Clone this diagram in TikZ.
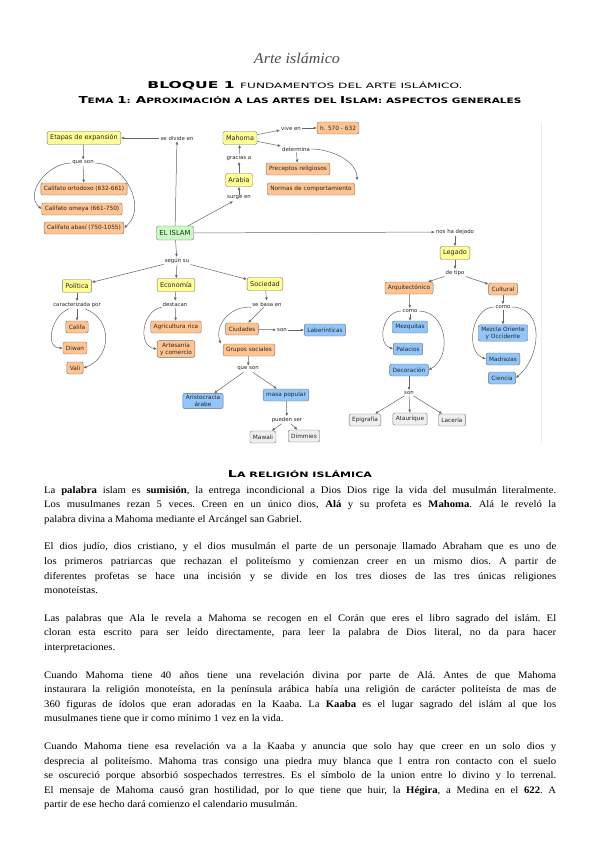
\documentclass[tikz,border=0pt]{standalone}
\usepackage{fontspec}
\usepackage{graphicx}
\usetikzlibrary{arrows.meta}
\setmainfont[FakeStretch=1.07]{Liberation Serif}
\newfontfamily\mapfont{DejaVu Sans}
\newfontfamily\copper{DejaVu Sans}

\definecolor{amarillo}{RGB}{255,255,150}
\definecolor{naranja}{RGB}{255,196,145}
\definecolor{azul}{RGB}{146,197,250}
\definecolor{verde}{RGB}{200,250,195}
\definecolor{gris}{RGB}{236,238,240}

\tikzset{
  concepto/.style={draw=black!55, rounded corners=2pt, inner xsep=3pt, inner ysep=2pt,
    minimum height=12pt, align=center, text=black!85,
    font=\mapfont\fontsize{5.8}{6.8}\selectfont},
  amar/.style={concepto, fill=amarillo, minimum height=13pt, font=\mapfont\fontsize{6.5}{7.5}\selectfont},
  verd/.style={concepto, fill=verde, minimum height=14pt, font=\mapfont\fontsize{6.8}{7.5}\selectfont},
  nar/.style={concepto, fill=naranja},
  azu/.style={concepto, fill=azul},
  gri/.style={concepto, fill=gris},
  frase/.style={inner sep=1pt, text=black!85, font=\mapfont\fontsize{5.4}{6}\selectfont},
  conn/.style={draw=black!60, line width=0.5pt, -{Latex[length=3.2pt,width=2.8pt]}}
}

\begin{document}
\begin{tikzpicture}[x=1pt,y=-1pt]

  \useasboundingbox (0,0) rectangle (599,848);

  % titles
  \node (titulo) at (297,58) {\fontsize{15}{16}\selectfont\itshape\color{black!70}Arte islámico};
  \node (bloque) at (305,86) {\resizebox{315pt}{7pt}{\copper\fontsize{9}{10}\selectfont\bfseries BLOQUE 1 \mdseries\fontsize{7}{8}\selectfont FUNDAMENTOS DEL ARTE ISLÁMICO.}};
  \node (tema) at (300,100) {\resizebox{443pt}{7pt}{\copper\bfseries\fontsize{7}{8}\selectfont{\fontsize{9}{10}\selectfont T}EMA {\fontsize{9}{10}\selectfont 1}: {\fontsize{9}{10}\selectfont A}PROXIMACIÓN A LAS ARTES DEL {\fontsize{9}{10}\selectfont I}SLAM: ASPECTOS GENERALES}};

  % faint edge of the map
  \draw[black!7] (541,122) -- (541,443);

  % centre
  \node[verd] (islam) at (175,233) {EL ISLAM};

  % expansion
  \node[frase] (divide) at (177,138) {se divide en};
  \node[amar] (etapas) at (84,138) {Etapas de expansión};
  \node[frase] (queson) at (83,163) {que son};
  \node[nar] (ortodoxo) at (84,189) {Califato ortodoxo (632-661)};
  \node[nar] (omeya) at (82,209) {Califato omeya (661-750)};
  \node[nar] (abasi) at (84,228) {Califato abasí (750-1055)};

  \draw[conn] (islam) -- (divide);
  \draw[conn] (divide) -- (etapas);
  \draw[conn] (etapas) -- (queson);
  \draw[conn] (queson) -- (ortodoxo);
  \draw[conn] (queson.west) to[out=180,in=140,looseness=1.1] (omeya.west);
  \draw[conn] (queson.east) to[out=0,in=40,looseness=1.1] (abasi.east);

  % Mahoma
  \node[frase] (surge) at (239,198) {surge en};
  \node[amar] (arabia) at (239,180) {Arabia};
  \node[frase] (gracias) at (239,158) {gracias a};
  \node[amar] (mahoma) at (240,138) {Mahoma};
  \node[frase] (vive) at (291,128) {vive en};
  \node[nar] (fecha) at (338,128) {h. 570 - 632};
  \node[frase] (determina) at (296,149) {determina};
  \node[nar] (preceptos) at (298,169) {Preceptos religiosos};
  \node[nar] (normas) at (311,189) {Normas de comportamiento};

  \draw[conn] (islam) -- (surge);
  \draw[conn] (surge) -- (arabia);
  \draw[conn] (arabia) -- (gracias);
  \draw[conn] (gracias) -- (mahoma);
  \draw[conn] (mahoma) -- (vive);
  \draw[conn] (vive) -- (fecha);
  \draw[conn] (mahoma) -- (determina);
  \draw[conn] (determina) -- (preceptos);
  \draw[conn] (determina.east) to[out=0,in=90,looseness=0.9] ([xshift=2pt,yshift=2.5pt]normas.north east);

  % legado
  \node[frase] (dejado) at (455,232) {nos ha dejado};
  \node[amar] (legado) at (455,253) {Legado};
  \node[frase] (tipo) at (455,273) {de tipo};
  \node[nar] (arquitectonico) at (409,288) {Arquitectónico};
  \node[nar] (cultural) at (503,289) {Cultural};
  \node[frase] (comoA) at (410,311) {como};
  \node[azu] (mezquitas) at (410,327) {Mezquitas};
  \node[azu] (palacios) at (408,349) {Palacios};
  \node[azu] (decoracion) at (409,370) {Decoración};
  \node[frase] (sonA) at (409,393) {son};
  \node[gri] (epigrafia) at (365,420) {Epigrafía};
  \node[gri] (ataurique) at (410,419) {Ataurique};
  \node[gri] (laceria) at (452,420) {Lacería};
  \node[frase] (comoC) at (503,307) {como};
  \node[azu] (mezcla) at (503,333) {Mezcla Oriente\\y Occidente};
  \node[azu] (madrazas) at (503,359) {Madrazas};
  \node[azu] (ciencia) at (502,378) {Ciencia};

  \draw[conn] (islam) -- (dejado);
  \draw[conn] (dejado) -- (legado);
  \draw[conn] (legado) -- (tipo);
  \draw[conn] (tipo) -- (arquitectonico);
  \draw[conn] (tipo) -- (cultural);
  \draw[conn] (arquitectonico) -- (comoA);
  \draw[conn] (comoA) -- (mezquitas);
  \draw[conn] (comoA.west) to[out=180,in=160,looseness=1.2] (palacios.west);
  \draw[conn] (comoA.east) to[out=0,in=30,looseness=1.2] (decoracion.east);
  \draw[conn] (decoracion) -- (sonA);
  \draw[conn] (sonA) -- (epigrafia);
  \draw[conn] (sonA) -- (ataurique);
  \draw[conn] (sonA) -- (laceria);
  \draw[conn] (cultural) -- (comoC);
  \draw[conn] (comoC) -- (mezcla);
  \draw[conn] (comoC.west) to[out=180,in=160,looseness=1.1] (madrazas.west);
  \draw[conn] (comoC.east) to[out=0,in=40,looseness=1.2] (ciencia.east);

  % segun su
  \node[frase] (segun) at (177,261) {según su};
  \node[amar] (politica) at (77,286) {Política};
  \node[amar] (economia) at (176,285) {Economía};
  \node[amar] (sociedad) at (265,284) {Sociedad};

  \draw[conn] (islam) -- (segun);
  \draw[conn] (segun) -- (politica);
  \draw[conn] (segun) -- (economia);
  \draw[conn] (segun) -- (sociedad);

  \node[frase] (caract) at (77,305) {caracterizada por};
  \node[nar] (califa) at (77,327) {Califa};
  \node[nar] (diwan) at (75,348) {Diwan};
  \node[nar] (vali) at (75,368) {Vali};

  \draw[conn] (politica) -- (caract);
  \draw[conn] (caract) -- (califa);
  \draw[conn] ([xshift=-8pt]caract.south) to[out=200,in=180,looseness=1.2] (diwan.west);
  \draw[conn] ([xshift=8pt]caract.south) to[out=-20,in=20,looseness=1.3] (vali.east);

  \node[frase] (destacan) at (175,304) {destacan};
  \node[nar] (agricultura) at (176,327) {Agricultura rica};
  \node[nar] (artesania) at (176,349) {Artesanía\\y comercio};

  \draw[conn] (economia) -- (destacan);
  \draw[conn] (destacan) -- (agricultura);
  \draw[conn] (destacan.south west) to[out=190,in=170,looseness=1.2] (artesania.west);

  \node[frase] (basa) at (267,304) {se basa en};
  \node[nar] (ciudades) at (242,329) {Ciudades};
  \node[frase] (sonB) at (282,330) {son};
  \node[azu] (laberinticas) at (325,330) {Laberínticas};
  \node[nar] (grupos) at (249,350) {Grupos sociales};
  \node[frase] (quesonB) at (248,369) {que son};
  \node[azu] (aristocracia) at (203,401) {Aristocracia\\árabe};
  \node[azu] (masa) at (286,395) {masa popular};
  \node[frase] (pueden) at (287,420) {pueden ser};
  \node[gri] (mawali) at (263,437) {Mawali};
  \node[gri] (dimmies) at (304,436) {Dimmies};

  \draw[conn] (sociedad) -- (basa);
  \draw[conn] (basa) -- (ciudades);
  \draw[conn] (basa.south west) to[out=175,in=110,looseness=1.1] ([xshift=-2pt]grupos.north west);
  \draw[conn] (ciudades) -- (sonB);
  \draw[conn] (sonB) -- (laberinticas);
  \draw[conn] (grupos) -- (quesonB);
  \draw[conn] (quesonB) -- (aristocracia);
  \draw[conn] (quesonB) -- (masa);
  \draw[conn] (masa) -- (pueden);
  \draw[conn] (pueden) -- (mawali);
  \draw[conn] (pueden) -- (dimmies);

  % la religion islamica
  \node (religion) at (300,474) {\resizebox{144pt}{7pt}{\copper\bfseries\fontsize{7}{8}\selectfont{\fontsize{9}{10}\selectfont L}A RELIGIÓN ISLÁMICA}};

  \node[anchor=north west, inner sep=0pt, text width=512pt, align=justify,
        font=\fontsize{10}{14.6}\selectfont] (cuerpo) at (44,486) {%
    \frenchspacing\setlength{\parskip}{13pt}\setlength{\parindent}{0pt}%
    La \textbf{palabra} islam es \textbf{sumisión}, la entrega incondicional a Dios Dios rige la vida del musulmán literalmente.\linebreak
    Los musulmanes rezan 5 veces. Creen en un único dios, \textbf{Alá} y su profeta es \textbf{Mahoma}. Alá le reveló la\linebreak
    palabra divina a Mahoma mediante el Arcángel san Gabriel.\par
    El dios judío, dios cristiano, y el dios musulmán el parte de un personaje llamado Abraham que es uno de\linebreak
    los primeros patriarcas que rechazan el politeísmo y comienzan creer en un mismo dios. A partir de\linebreak
    diferentes profetas se hace una incisión y se divide en los tres dioses de las tres únicas religiones\linebreak
    monoteístas.\par
    Las palabras que Ala le revela a Mahoma se recogen en el Corán que eres el libro sagrado del islám. El\linebreak
    cloran esta escrito para ser leído directamente, para leer la palabra de Dios literal, no da para hacer\linebreak
    interpretaciones.\par
    Cuando Mahoma tiene 40 años tiene una revelación divina por parte de Alá. Antes de que Mahoma\linebreak
    instaurara la religión monoteísta, en la península arábica había una religión de carácter politeísta de mas de\linebreak
    360 figuras de ídolos que eran adoradas en la Kaaba. La \textbf{Kaaba} es el lugar sagrado del islám al que los\linebreak
    musulmanes tiene que ir como mínimo 1 vez en la vida.\par
    Cuando Mahoma tiene esa revelación va a la Kaaba y anuncia que solo hay que creer en un solo dios y\linebreak
    desprecia al politeísmo. Mahoma tras consigo una piedra muy blanca que l entra ron contacto con el suelo\linebreak
    se oscureció porque absorbió sospechados terrestres. Es el símbolo de la union entre lo divino y lo terrenal.\linebreak
    El mensaje de Mahoma causó gran hostilidad, por lo que tiene que huir, la \textbf{Hégira}, a Medina en el \textbf{622}. A\linebreak
    partir de ese hecho dará comienzo el calendario musulmán.\par};

\end{tikzpicture}
\end{document}
